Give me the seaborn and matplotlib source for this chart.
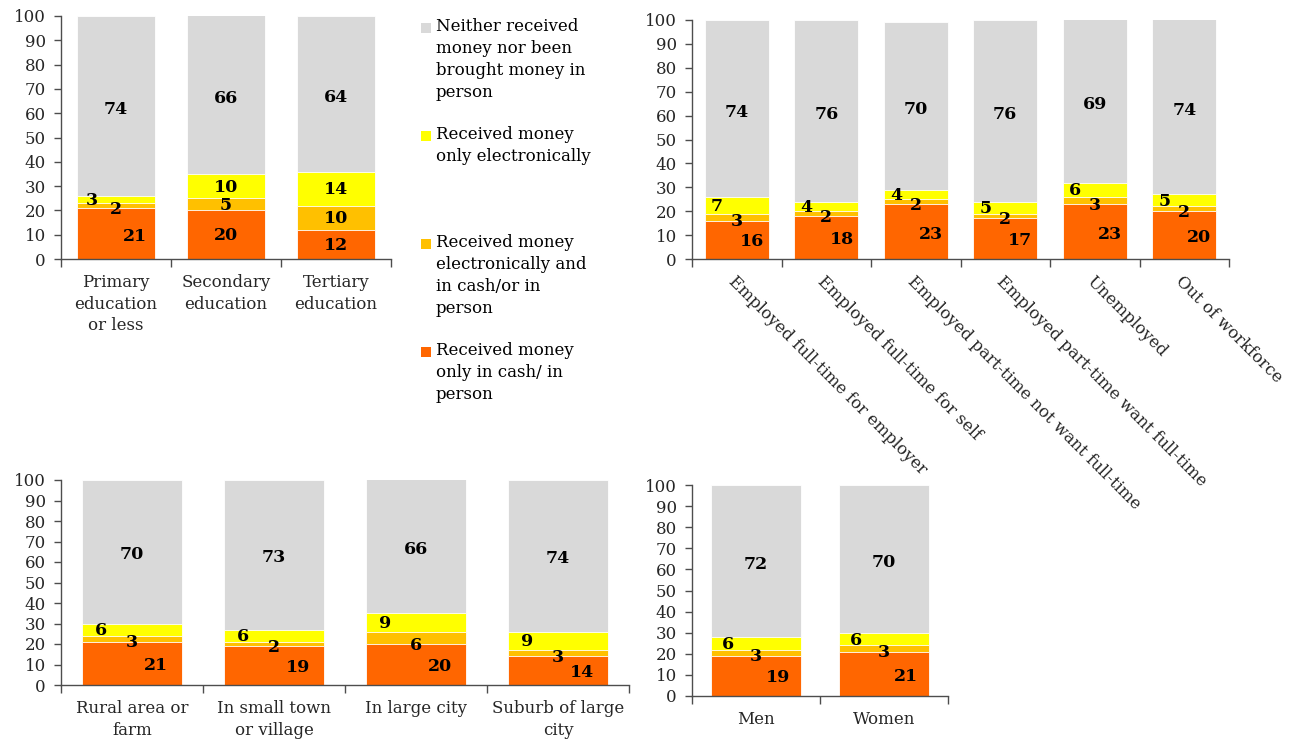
import matplotlib
matplotlib.use("Agg")
import matplotlib.pyplot as plt
from matplotlib.patches import Rectangle
from matplotlib.ticker import FixedLocator
import numpy as np
import seaborn as sns

sns.set_theme(style="white")
plt.rcParams["font.family"] = ["DejaVu Serif"]

# Series (stacked bottom to top)
series_names = [
    "Received money\nonly in cash/ in\nperson",
    "Received money\nelectronically and\nin cash/or in\nperson",
    "Received money\nonly electronically",
    "Neither received\nmoney nor been\nbrought money in\nperson",
]
ORANGE = "#FF6600"
AMBER = "#FFC000"
YELLOW = "#FFFF00"
GRAY = "#D9D9D9"

# Education
edu_categories = ["Primary\neducation\nor less", "Secondary\neducation", "Tertiary\neducation"]
edu_cash = [21, 20, 12]
edu_both = [2, 5, 10]
edu_elec = [3, 10, 14]
edu_neither = [74, 66, 64]

# Employment status
emp_categories = ["Employed full-time for employer", "Employed full-time for self",
                  "Employed part-time not want full-time", "Employed part-time want full-time",
                  "Unemployed", "Out of workforce"]
emp_cash = [16, 18, 23, 17, 23, 20]
emp_both = [3, 2, 2, 2, 3, 2]
emp_elec = [7, 4, 4, 5, 6, 5]
emp_neither = [74, 76, 70, 76, 69, 74]

# Urbanicity
urb_categories = ["Rural area or\nfarm", "In small town\nor village", "In large city", "Suburb of large\ncity"]
urb_cash = [21, 19, 20, 14]
urb_both = [3, 2, 6, 3]
urb_elec = [6, 6, 9, 9]
urb_neither = [70, 73, 66, 74]

# Gender
gen_categories = ["Men", "Women"]
gen_cash = [19, 21]
gen_both = [3, 3]
gen_elec = [6, 6]
gen_neither = [72, 70]

W, H = 1299, 742
fig = plt.figure(figsize=(W / 100, H / 100), dpi=100)

AXIS_COLOR = "#4d4d4d"
TICK_FS = 12
LABEL_FS = 12.5


def px_rect(left, right, bottom, top):
    return [left / W, (H - bottom) / H, (right - left) / W, (bottom - top) / H]


def draw_panel(rect, cats, cash, both, elec, neither, rotate=False):
    ax = fig.add_axes(rect)
    cash = np.asarray(cash, float)
    both = np.asarray(both, float)
    elec = np.asarray(elec, float)
    neither = np.asarray(neither, float)
    n = len(cats)
    # cumulative heights drawn back to front
    tops = [
        (cash + both + elec + neither, GRAY),
        (cash + both + elec, YELLOW),
        (cash + both, AMBER),
        (cash, ORANGE),
    ]
    for heights, col in tops:
        sns.barplot(x=cats, y=heights, ax=ax, color=col, saturation=1, width=0.71,
                    errorbar=None, edgecolor="white", linewidth=0.6)

    # value labels; thin segments get staggered labels
    for i in range(n):
        c, b, e, g = cash[i], both[i], elec[i], neither[i]
        crowded = e < 10 or b < 5
        if crowded:
            pos = [
                (i + 0.17, c * 0.45, c),
                (i, c - 0.5, b),
                (i - 0.22, c + b + e / 2 - 0.5, e),
            ]
        else:
            pos = [
                (i, c / 2 - 0.5, c),
                (i, c + b / 2 - 0.5, b),
                (i, c + b + e / 2 - 0.5, e),
            ]
        low = c + b + e
        pos.append((i, (low + min(100, low + g)) / 2 - 1.5, g))
        for xx, yy, v in pos:
            ax.text(xx, yy, f"{int(v)}", ha="center", va="center",
                    fontsize=LABEL_FS, fontweight="bold", color="black", zorder=5)

    ax.set_ylim(0, 100)
    ax.set_xlim(-0.5, n - 0.5)
    ax.set_yticks(np.arange(0, 101, 10))
    ax.set_xlabel("")
    ax.set_ylabel("")
    for s in ("top", "right"):
        ax.spines[s].set_visible(False)
    for s in ("left", "bottom"):
        ax.spines[s].set_color(AXIS_COLOR)
        ax.spines[s].set_linewidth(1.0)
    ax.tick_params(axis="y", which="major", direction="out", length=5, width=1,
                   color=AXIS_COLOR, labelsize=TICK_FS, pad=6, left=True)
    ax.xaxis.set_minor_locator(FixedLocator(np.arange(-0.5, n, 1.0)))
    ax.tick_params(axis="x", which="minor", direction="out", length=6, width=1,
                   color=AXIS_COLOR, bottom=True)
    ax.set_xticks(np.arange(n))
    if rotate:
        ax.tick_params(axis="x", which="major", length=0, labelsize=TICK_FS, pad=10)
        ax.set_xticklabels(cats, rotation=-45, ha="left", va="top",
                           rotation_mode="anchor", fontsize=TICK_FS)
    else:
        ax.tick_params(axis="x", which="major", length=0, labelsize=TICK_FS, pad=11)
        ax.set_xticklabels(cats, linespacing=1.35, fontsize=TICK_FS)
    ax.set_facecolor("none")
    return ax


draw_panel(px_rect(61, 391, 259, 16), edu_categories, edu_cash, edu_both, edu_elec, edu_neither)
draw_panel(px_rect(692, 1229, 259, 20), emp_categories, emp_cash, emp_both, emp_elec, emp_neither, rotate=True)
draw_panel(px_rect(61, 629, 685, 480), urb_categories, urb_cash, urb_both, urb_elec, urb_neither)
draw_panel(px_rect(692, 948, 696, 485), gen_categories, gen_cash, gen_both, gen_elec, gen_neither)

# Legend, top entry first
legend_entries = list(zip(series_names[::-1], [GRAY, YELLOW, AMBER, ORANGE]))
for k, (name, col) in enumerate(legend_entries):
    top_px = 18 + 108 * k
    fig.patches.append(Rectangle((421 / W, (H - top_px - 15) / H), 10 / W, 10 / H,
                                 transform=fig.transFigure, facecolor=col,
                                 edgecolor="none", figure=fig))
    fig.text(436 / W, (H - top_px) / H, name, ha="left", va="top",
             fontsize=12, linespacing=1.38, color="black")

fig.savefig("out.png", dpi=100)
